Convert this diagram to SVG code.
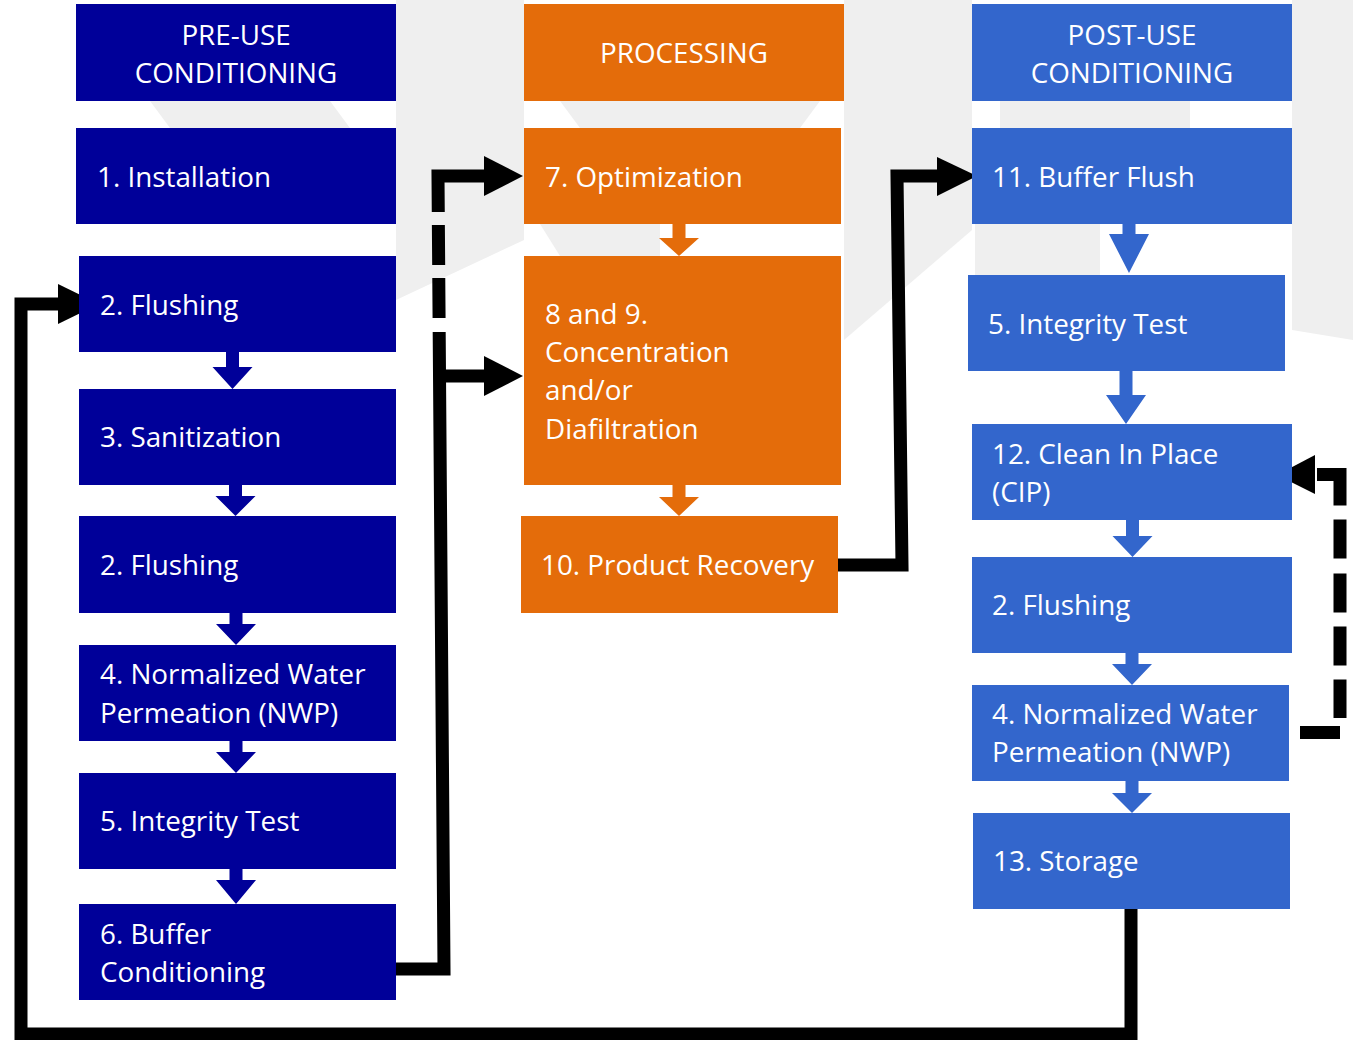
<svg xmlns="http://www.w3.org/2000/svg" width="1353" height="1040" viewBox="0 0 1353 1040">
<style>
.bg{fill:#ffffff}
.wm{fill:#efefef}
.navy{fill:#000099}
.orange{fill:#E46C0A}
.blue{fill:#3366CC}
.t{font-family:"Open Sans","Liberation Sans",sans-serif;font-size:27.8px;fill:#ffffff}
.c{text-anchor:middle}
.conn{fill:none;stroke:#000000;stroke-width:13;stroke-linejoin:miter}
.head{fill:#000000}
</style>
<rect class="bg" x="0" y="0" width="1353" height="1040"/>
<g id="watermark">
<polygon class="wm" points="396,0 524,0 524,240 396,300"/>
<polygon class="wm" points="844,0 972,0 972,230 844,340"/>
<polygon class="wm" points="1292,0 1353,0 1353,340 1292,330"/>
<polygon class="wm" points="150,101 330,101 350,128 170,128"/>
<polygon class="wm" points="560,101 820,101 800,128 580,128"/>
<polygon class="wm" points="1000,101 1190,101 1190,128 1000,128"/>
<polygon class="wm" points="540,224 660,224 660,256 560,256"/>
<polygon class="wm" points="975,224 1100,224 1100,275 975,275"/>
</g>

<g id="connectors">
<path class="conn" d="M486 176 H438 L444 969 H396" stroke-dasharray="84 13 40 13 40 14 2000"/>
<path class="conn" d="M439 376 H486"/>
<polygon class="head" points="484,156 523,176 484,196"/>
<polygon class="head" points="484,356 523,376 484,396"/>
<path class="conn" d="M1131 909 V1034 H21 V304 H60"/>
<polygon class="head" points="58,284 99,304 58,324"/>
<path class="conn" d="M827 565 H902 L897 176 H939"/>
<polygon class="head" points="937,157 977,176 937,196"/>
<path class="conn" d="M1317 474.5 H1340 V718" stroke-dasharray="54 14 39 15 39 14 39 14 40"/>
<path class="conn" d="M1300 732.5 H1340"/>
<polygon class="head" points="1315,455 1277,475 1315,494"/>
</g>

<g id="flow-arrows">
<polygon class="navy" points="226,352 239,352 239,367 252.5,367 232.5,389 212.5,367 226,367"/>
<polygon class="navy" points="229,485 242,485 242,496 255.5,496 235.5,516 215.5,496 229,496"/>
<polygon class="navy" points="229.5,613 242.5,613 242.5,624 256,624 236,645 216,624 229.5,624"/>
<polygon class="navy" points="229.5,741 242.5,741 242.5,752 256,752 236,773 216,752 229.5,752"/>
<polygon class="navy" points="229.5,869 242.5,869 242.5,880 256,880 236,904 216,880 229.5,880"/>
<polygon class="orange" points="672.5,224 685.5,224 685.5,238 699,238 679,256 659,238 672.5,238"/>
<polygon class="orange" points="672.5,485 685.5,485 685.5,497 699,497 679,516 659,497 672.5,497"/>
<polygon class="blue" points="1122.5,224 1135.5,224 1135.5,234 1149,234 1129,273 1109,234 1122.5,234"/>
<polygon class="blue" points="1119.5,371 1132.5,371 1132.5,395 1146,395 1126,424 1106,395 1119.5,395"/>
<polygon class="blue" points="1126,520 1139,520 1139,536 1152.5,536 1132.5,557 1112.5,536 1126,536"/>
<polygon class="blue" points="1125.5,653 1138.5,653 1138.5,664 1152,664 1132,685 1112,664 1125.5,664"/>
<polygon class="blue" points="1125.5,781 1138.5,781 1138.5,793 1152,793 1132,813 1112,793 1125.5,793"/>
</g>

<g id="hdr-pre"><rect class="navy" x="76" y="4" width="320" height="97"/><text class="t c" x="236" y="45">PRE-USE</text><text class="t c" x="236" y="83">CONDITIONING</text></g>
<g id="n1"><rect class="navy" x="76" y="128" width="320" height="96"/><text class="t" x="97" y="187">1. Installation</text></g>
<g id="n2a"><rect class="navy" x="79" y="256" width="317" height="96"/><text class="t" x="100" y="315">2. Flushing</text></g>
<g id="n3"><rect class="navy" x="79" y="389" width="317" height="96"/><text class="t" x="100" y="447">3. Sanitization</text></g>
<g id="n2b"><rect class="navy" x="79" y="516" width="317" height="97"/><text class="t" x="100" y="575">2. Flushing</text></g>
<g id="n4a"><rect class="navy" x="79" y="645" width="317" height="96"/><text class="t" x="100" y="684">4. Normalized Water</text><text class="t" x="100" y="723">Permeation (NWP)</text></g>
<g id="n5a"><rect class="navy" x="79" y="773" width="317" height="96"/><text class="t" x="100" y="831">5. Integrity Test</text></g>
<g id="n6"><rect class="navy" x="79" y="904" width="317" height="96"/><text class="t" x="100" y="944">6. Buffer</text><text class="t" x="100" y="982">Conditioning</text></g>

<g id="hdr-proc"><rect class="orange" x="524" y="4" width="320" height="97"/><text class="t c" x="684" y="63">PROCESSING</text></g>
<g id="n7"><rect class="orange" x="524" y="128" width="317" height="96"/><text class="t" x="545" y="187">7. Optimization</text></g>
<g id="n89"><rect class="orange" x="524" y="256" width="317" height="229"/><text class="t" x="545" y="324">8 and 9.</text><text class="t" x="545" y="362">Concentration</text><text class="t" x="545" y="400">and/or</text><text class="t" x="545" y="439">Diafiltration</text></g>
<g id="n10"><rect class="orange" x="521" y="516" width="317" height="97"/><text class="t" x="541" y="575">10. Product Recovery</text></g>

<g id="hdr-post"><rect class="blue" x="972" y="4" width="320" height="97"/><text class="t c" x="1132" y="45">POST-USE</text><text class="t c" x="1132" y="83">CONDITIONING</text></g>
<g id="n11"><rect class="blue" x="972" y="128" width="320" height="96"/><text class="t" x="992" y="187">11. Buffer Flush</text></g>
<g id="n5b"><rect class="blue" x="968" y="275" width="317" height="96"/><text class="t" x="988" y="334">5. Integrity Test</text></g>
<g id="n12"><rect class="blue" x="972" y="424" width="320" height="96"/><text class="t" x="992" y="464">12. Clean In Place</text><text class="t" x="992" y="502">(CIP)</text></g>
<g id="n2c"><rect class="blue" x="972" y="557" width="320" height="96"/><text class="t" x="992" y="615">2. Flushing</text></g>
<g id="n4b"><rect class="blue" x="972" y="685" width="317" height="96"/><text class="t" x="992" y="724">4. Normalized Water</text><text class="t" x="992" y="762">Permeation (NWP)</text></g>
<g id="n13"><rect class="blue" x="973" y="813" width="317" height="96"/><text class="t" x="993" y="871">13. Storage</text></g>
</svg>
